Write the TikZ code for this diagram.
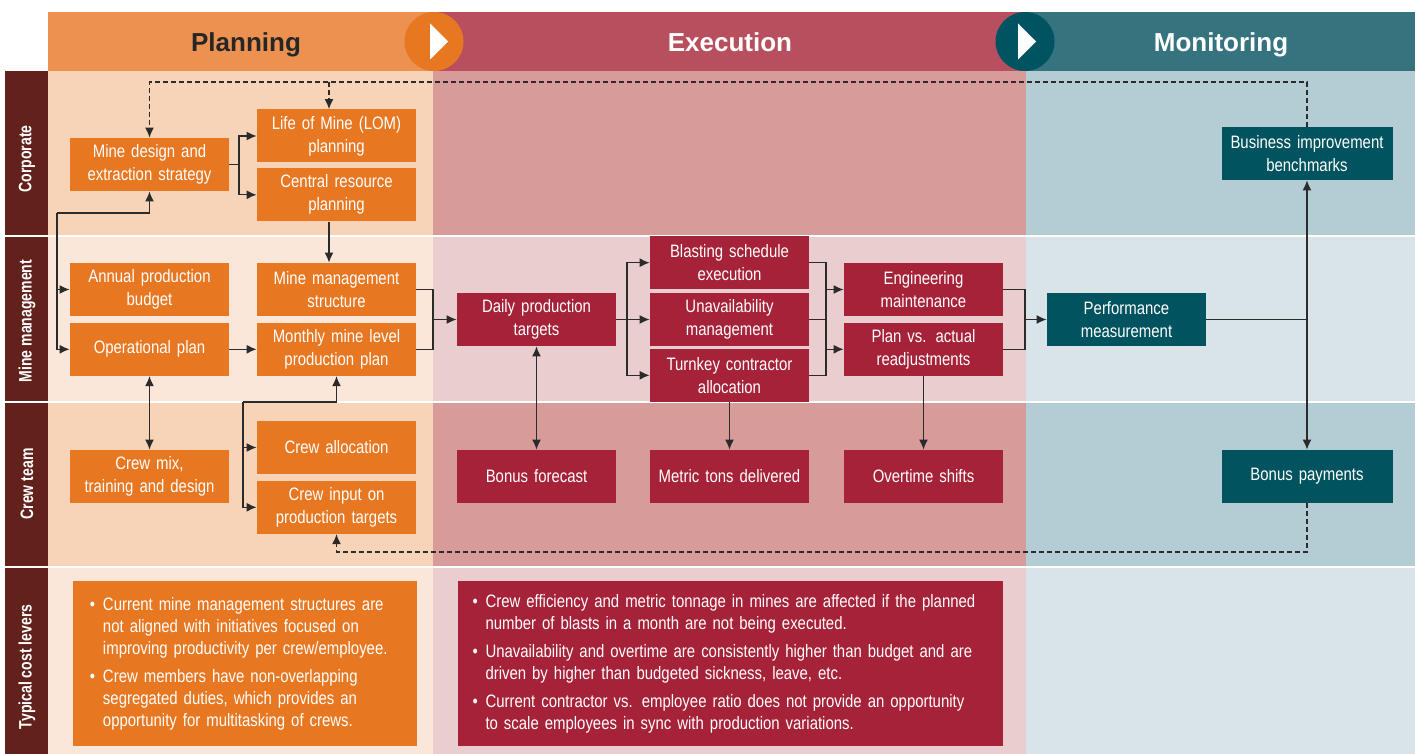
\documentclass[tikz,border=0pt]{standalone}
\usepackage{fontspec}
\setmainfont{Liberation Sans}
\newfontfamily\narrowfont[FakeStretch=0.83]{Liberation Sans}
\newfontfamily\rowfont[FakeStretch=0.78]{Liberation Sans}
\usetikzlibrary{positioning, arrows.meta}

\definecolor{planorange}{HTML}{E87722}
\definecolor{execred}{HTML}{A52238}
\definecolor{monteal}{HTML}{00535F}
\definecolor{planhead}{HTML}{ED9150}
\definecolor{exechead}{HTML}{B84F5E}
\definecolor{monhead}{HTML}{35747F}
\definecolor{plandark}{HTML}{F7D4B7}
\definecolor{planlight}{HTML}{FBE6DA}
\definecolor{execdark}{HTML}{D79B9A}
\definecolor{execlight}{HTML}{E9CDCF}
\definecolor{mondark}{HTML}{B4CDD4}
\definecolor{monlight}{HTML}{D9E4E9}
\definecolor{rowbrown}{HTML}{63211C}
\definecolor{circteal}{HTML}{005461}
\definecolor{wiregray}{HTML}{2B2B2B}

% one bullet of a cost lever box
\newcommand\lever[1]{\hangindent=6.5pt\hangafter=1\noindent\makebox[6.5pt][l]{\textbullet}#1\par}

\begin{document}
\begin{tikzpicture}[
    , x = 0.5pt
    , y = -0.5pt
    , font = \narrowfont\fontsize{9}{11.5}\selectfont
    , n/.style = {
      , minimum width = 79.5pt
      , minimum height = 26.5pt
      , text width = 77pt
      , align = center
      , inner sep = 0pt
      , text = white
    }
    , plan/.style = {n, fill = planorange}
    , exec/.style = {n, fill = execred}
    , mon/.style = {n, fill = monteal}
    , head/.style = {anchor = base, font = \fontsize{13}{15}\selectfont\bfseries}
    , rowlab/.style = {
      , rotate = 90
      , text = white
      , font = \rowfont\fontsize{9}{11}\selectfont\bfseries
    }
    , leverbox/.style = {
      , text = white
      , align = left
      , inner sep = 0pt
      , minimum height = 82.5pt
      , font = \narrowfont\fontsize{9}{11}\selectfont
    }
    , turn/.style = {circle, minimum size = 29.5pt, inner sep = 0pt}
    , wire/.style = {draw = wiregray, line width = 0.65pt}
    , link/.style = {wire, -{Latex[length = 5pt, width = 4.5pt]}}
    , both/.style = {wire, {Latex[length = 5pt, width = 4.5pt]}-{Latex[length = 5pt, width = 4.5pt]}}
    , dlink/.style = {link, dash pattern = on 2.5pt off 1.5pt}
  ]
    \useasboundingbox (0,0) rectangle (1415,754);

    % row bands
    \foreach \ya/\yb/\tone in {71/236/dark, 236/402/light, 402/567/dark, 567/754/light} {
      \fill [plan\tone] (48,\ya) rectangle (433,\yb);
      \fill [exec\tone] (433,\ya) rectangle (1026,\yb);
      \fill [mon\tone] (1026,\ya) rectangle (1415,\yb);
    }
    \fill [rowbrown] (5,71) rectangle (48,754);
    \foreach \ya in {236, 402, 567}
      \draw [white, line width = 1pt] (5,\ya) -- (1415,\ya);

    % phase header
    \fill [planhead] (48,12) rectangle (433,71);
    \fill [exechead] (433,12) rectangle (1026,71);
    \fill [monhead] (1026,12) rectangle (1415,71);
    \node (hplan) [head, text = black!85] at (246,51.5) {Planning};
    \node (hexec) [head, text = white] at (730,51.5) {Execution};
    \node (hmon) [head, text = white] at (1221,51.5) {Monitoring};
    \node (turn1) [turn, fill = planorange] at (434,41.5) {};
    \node (turn2) [turn, fill = circteal] at (1025,41.5) {};
    \fill [white] (430,23.5) -- (448,41.5) -- (430,59.5) -- cycle;
    \fill [white] (1018,23.5) -- (1036,41.5) -- (1018,59.5) -- cycle;

    % row labels
    \node (rcorp) [rowlab] at (27,159) {Corporate};
    \node (rmine) [rowlab] at (27,321) {Mine management};
    \node (rcrew) [rowlab] at (27,484) {Crew team};
    \node (rcost) [rowlab] at (27,667) {Typical cost levers};

    % planning
    \node (mds) [plan] at (149.5,164.5) {Mine design and\\ extraction strategy};
    \node (lom) [plan] at (336.5,136) {Life of Mine (LOM)\\ planning};
    \node (crp) [plan, below = 2.5pt of lom] {Central resource\\ planning};
    \node (apb) [plan] at (149.5,289.5) {Annual production\\ budget};
    \node (opl) [plan, below = 3pt of apb] {Operational plan};
    \node (mms) [plan] at (336.5,289.5) {Mine management\\ structure};
    \node (mmp) [plan, below = 3pt of mms] {Monthly mine level\\ production plan};
    \node (cmx) [plan] at (149.5,476.5) {Crew mix,\\ training and design};
    \node (cal) [plan] at (336.5,447.5) {Crew allocation};
    \node (cin) [plan, below = 3pt of cal] {Crew input on\\ production targets};

    % execution
    \node (dpt) [exec] at (536.5,319.5) {Daily production\\ targets};
    \node (uam) [exec] at (729.5,319.5) {Unavailability\\ management};
    \node (bse) [exec, above = 1.5pt of uam] {Blasting schedule\\ execution};
    \node (tca) [exec, below = 1pt of uam] {Turnkey contractor\\ allocation};
    \node (eng) [exec] at (923.5,289.5) {Engineering\\ maintenance};
    \node (pva) [exec, below = 3pt of eng] {Plan vs. actual\\ readjustments};
    \node (bfc) [exec] at (536.5,476.5) {Bonus forecast};
    \node (mtd) [exec] at (729.5,476.5) {Metric tons delivered};
    \node (ots) [exec] at (923.5,476.5) {Overtime shifts};

    % monitoring
    \node (pfm) [mon] at (1126.5,319.5) {Performance\\ measurement};
    \node (bib) [mon, minimum width = 85.5pt, text width = 84pt] at (1307,153.5) {Business improvement\\ benchmarks};
    \node (bpy) [mon, minimum width = 85.5pt, text width = 84pt] at (1307,476.5) {Bonus payments};

    % cost levers
    \node (plev) [leverbox, fill = planorange, minimum width = 172pt, text width = 155pt] at (245,663.5) {%
      \lever{Current mine management structures are\newline not aligned with initiatives focused on\newline improving productivity per crew/employee.}
      \vspace{3pt}
      \lever{Crew members have non-overlapping\newline segregated duties, which provides an\newline opportunity for multitasking of crews.}};
    \node (elev) [leverbox, fill = execred, minimum width = 272.5pt, text width = 258pt] at (730.5,663.5) {%
      \lever{Crew efficiency and metric tonnage in mines are affected if the planned\newline number of blasts in a month are not being executed.}
      \vspace{3pt}
      \lever{Unavailability and overtime are consistently higher than budget and are\newline driven by higher than budgeted sickness, leave, etc.}
      \vspace{3pt}
      \lever{Current contractor vs. employee ratio does not provide an opportunity\newline to scale employees in sync with production variations.}};

    % junction points
    \coordinate (dtop) at (0,82);
    \coordinate (dbot) at (0,552);
    \coordinate (j1) at (239,0);
    \coordinate (lt) at (57,213);
    \coordinate (ct) at (243,402);
    \coordinate (b1) at (433,0);
    \coordinate (b2) at (627,0);
    \coordinate (b3) at (826,0);
    \coordinate (b4) at (1025,0);

    % feedback loops
    \draw [dlink] (bib.north) |- (dtop -| mds.north) -- (mds.north);
    \draw [dlink] (dtop -| lom.north) ++(-7.5,0) -- ([xshift = -3.75pt]lom.north);
    \draw [dlink] (bpy.south) |- (dbot -| cin.south) -- (cin.south);

    % planning links
    \draw [link] (mds.east) -- (mds.east -| j1) |- (lom.west);
    \draw [link] (mds.east -| j1) |- (crp.west);
    \draw [link] ([xshift = -3.75pt]crp.south) -- ([xshift = -3.75pt]mms.north);
    \draw [link] (lt) -| (mds.south);
    \draw [link] (lt) |- (apb.west);
    \draw [link] (lt) |- (opl.west);
    \draw [link] (opl) -- (mmp);
    \draw [both] (opl) -- (cmx);
    \draw [link] (ct) -| (mmp.south);
    \draw [link] (ct) |- (cal.west);
    \draw [link] (ct) |- (cin.west);

    % execution links
    \draw [wire] (mms.east) -| (mmp.east -| b1) -- (mmp.east);
    \draw [link] (dpt.west -| b1) -- (dpt.west);
    \draw [link] (dpt) -- (uam);
    \draw [link] (dpt.east -| b2) |- (bse.west);
    \draw [link] (dpt.east -| b2) |- (tca.west);
    \draw [both] (dpt) -- (bfc);
    \draw [wire] (bse.east) -| (tca.east -| b3) -- (tca.east);
    \draw [wire] (uam.east) -- (uam.east -| b3);
    \draw [link] (eng.west -| b3) -- (eng.west);
    \draw [link] (pva.west -| b3) -- (pva.west);
    \draw [link] (tca) -- (mtd);
    \draw [link] (pva) -- (ots);

    % monitoring links
    \draw [wire] (eng.east) -| (pva.east -| b4) -- (pva.east);
    \draw [link] (pfm.west -| b4) -- (pfm.west);
    \draw [wire] (pfm.east) -- (pfm.east -| bib.south);
    \draw [link] (pfm.east -| bib.south) -- (bib.south);
    \draw [link] (pfm.east -| bib.south) -- (bpy.north);
  \end{tikzpicture}
\end{document}
